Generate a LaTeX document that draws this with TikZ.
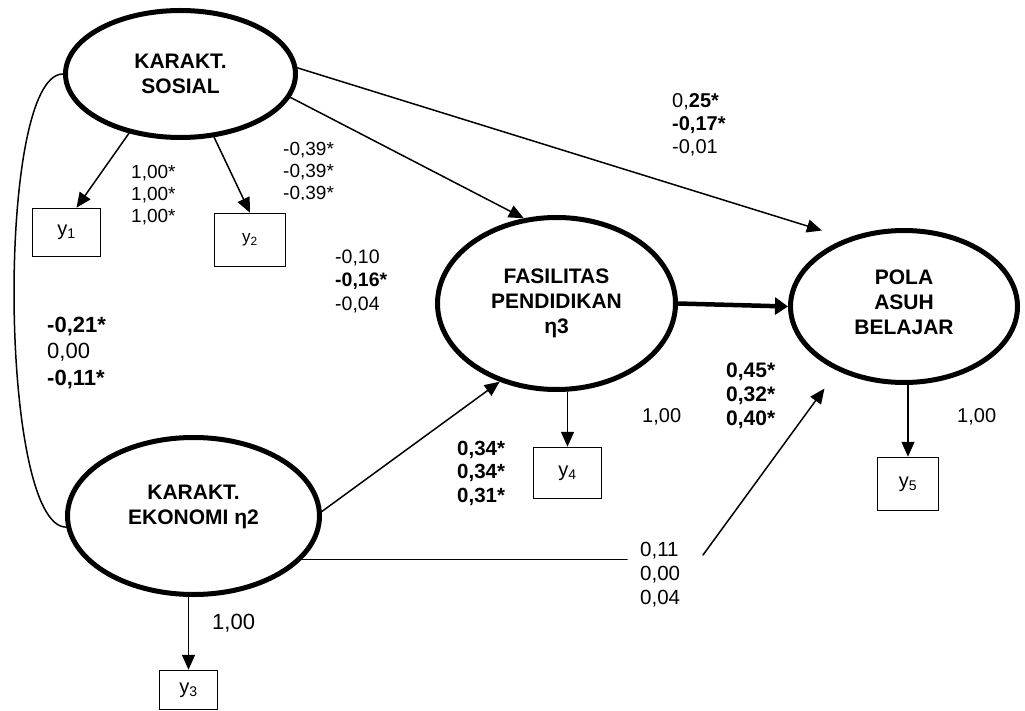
\documentclass[tikz,border=0pt]{standalone}
\usepackage{fontspec}
\setmainfont{Liberation Sans}
\usetikzlibrary{arrows.meta,positioning,shapes.geometric}

\begin{document}
\begin{tikzpicture}[x=1pt,y=-1pt]
\tikzset{
  latentnode/.style={ellipse,draw=black,line width=5pt,inner sep=0pt,align=center,font=\bfseries\fontsize{21}{25}\selectfont},
  obsnode/.style={rectangle,draw=black,line width=1.5pt,inner sep=0pt,font=\fontsize{20}{24}\selectfont},
  coefnode/.style={anchor=west,align=left,inner sep=0pt,font=\fontsize{20}{23.5}\selectfont},
  graphedge/.style={draw=black,line width=1.5pt,line cap=round,line join=round},
  directed/.style={graphedge,-{Triangle[length=15pt,width=13pt]}},
  undirected/.style={graphedge}
}
\useasboundingbox (0,0) rectangle (1025,711);
\node[latentnode,minimum width=230pt,minimum height=127pt] (n_sosial) at (180.5,74) {KARAKT.\\SOSIAL};
\node[latentnode,minimum width=252pt,minimum height=157pt] (n_ekonomi) at (193.5,516) {KARAKT.\\EKONOMI η2\\[-3pt]\mbox{}};
\node[latentnode,minimum width=238pt,minimum height=172pt] (n_fasilitas) at (556.5,303.5) {FASILITAS\\PENDIDIKAN\\η3};
\node[latentnode,minimum width=227pt,minimum height=152pt] (n_pola) at (904,306.5) {POLA\\ASUH\\BELAJAR\\[-16pt]\mbox{}};
\node[obsnode,minimum width=68pt,minimum height=48pt] (n_y1) at (66.5,232.5) {y\textsubscript{1}};
\node[obsnode,minimum width=71pt,minimum height=53pt,font=\fontsize{17}{20}\selectfont] (n_y2) at (250,240) {y\textsubscript{2}};
\node[obsnode,minimum width=58pt,minimum height=39pt] (n_y3) at (188.5,690) {y\textsubscript{3}};
\node[obsnode,minimum width=68pt,minimum height=51pt] (n_y4) at (567.5,473) {y\textsubscript{4}};
\node[obsnode,minimum width=61pt,minimum height=53pt] (n_y5) at (908,484) {y\textsubscript{5}};
\coordinate (p_split1) at (627,560);
\coordinate (p_split2) at (703,555);
\draw[directed] (n_sosial.229) -- ([xshift=10pt]n_y1.north);
\draw[directed] (n_sosial.-62) -- (n_y2.north);
\draw[directed] (n_sosial.-12) -- (n_fasilitas.111);
\draw[directed,shorten >=26pt] (n_sosial.3) -- (n_pola.130);
\draw[graphedge,line width=4.5pt,-{Triangle[length=13pt,width=17pt]}] (n_fasilitas.east) -- (n_pola.west);
\draw[directed] (n_ekonomi.2) -- (n_fasilitas.234);
\draw[undirected] (n_ekonomi.-22) -- (n_ekonomi.-22 -| p_split1);
\draw[directed,shorten >=22pt] (p_split2) -- (n_pola.224);
\draw[directed] (n_ekonomi.south -| n_y3.north) -- (n_y3.north);
\draw[directed] (n_fasilitas.south -| n_y4.north) -- (n_y4.north);
\draw[directed] (n_pola.south -| n_y5.north) -- (n_y5.north);
\draw[undirected] (n_sosial.west) to[out=180,in=180,looseness=0.38] (n_ekonomi.185);
\node[coefnode,font=\fontsize{19}{22}\selectfont] (c_y1) at (131,195) {1,00*\\1,00*\\1,00*};
\begin{scope}
\clip (270,140) rectangle (345,199.5);
\node[coefnode,font=\fontsize{19}{22}\selectfont] (c_y2) at (283,172) {-0,39*\\-0,39*\\-0,39*};
\end{scope}
\node[coefnode,font=\fontsize{19.5}{23.5}\selectfont] (c_sos_fas) at (335,281) {-0,10\\\textbf{-0,16*}\\-0,04};
\node[coefnode,font=\fontsize{20}{23}\selectfont] (c_sos_pola) at (672,125) {0,\textbf{25*}\\\textbf{-0,17*}\\-0,01};
\node[coefnode,font=\fontsize{22}{26.5}\selectfont] (c_cov) at (47,353) {\textbf{-0,21*}\\0,00\\\textbf{-0,11*}};
\node[coefnode,font=\bfseries\fontsize{20.5}{23.5}\selectfont] (c_eko_fas) at (457,473) {0,34*\\0,34*\\0,31*};
\node[coefnode] (c_y4) at (642,417) {1,00};
\node[coefnode,font=\bfseries\fontsize{21}{24}\selectfont] (c_fas_pola) at (726,396) {0,45*\\0,32*\\0,40*};
\node[coefnode] (c_y5) at (957,417) {1,00};
\node[coefnode,font=\fontsize{20.5}{24}\selectfont] (c_eko_pola) at (640,575) {0,11\\0,00\\0,04};
\node[coefnode,font=\fontsize{22}{26}\selectfont] (c_y3) at (212,623) {1,00};
\end{tikzpicture}
\end{document}
